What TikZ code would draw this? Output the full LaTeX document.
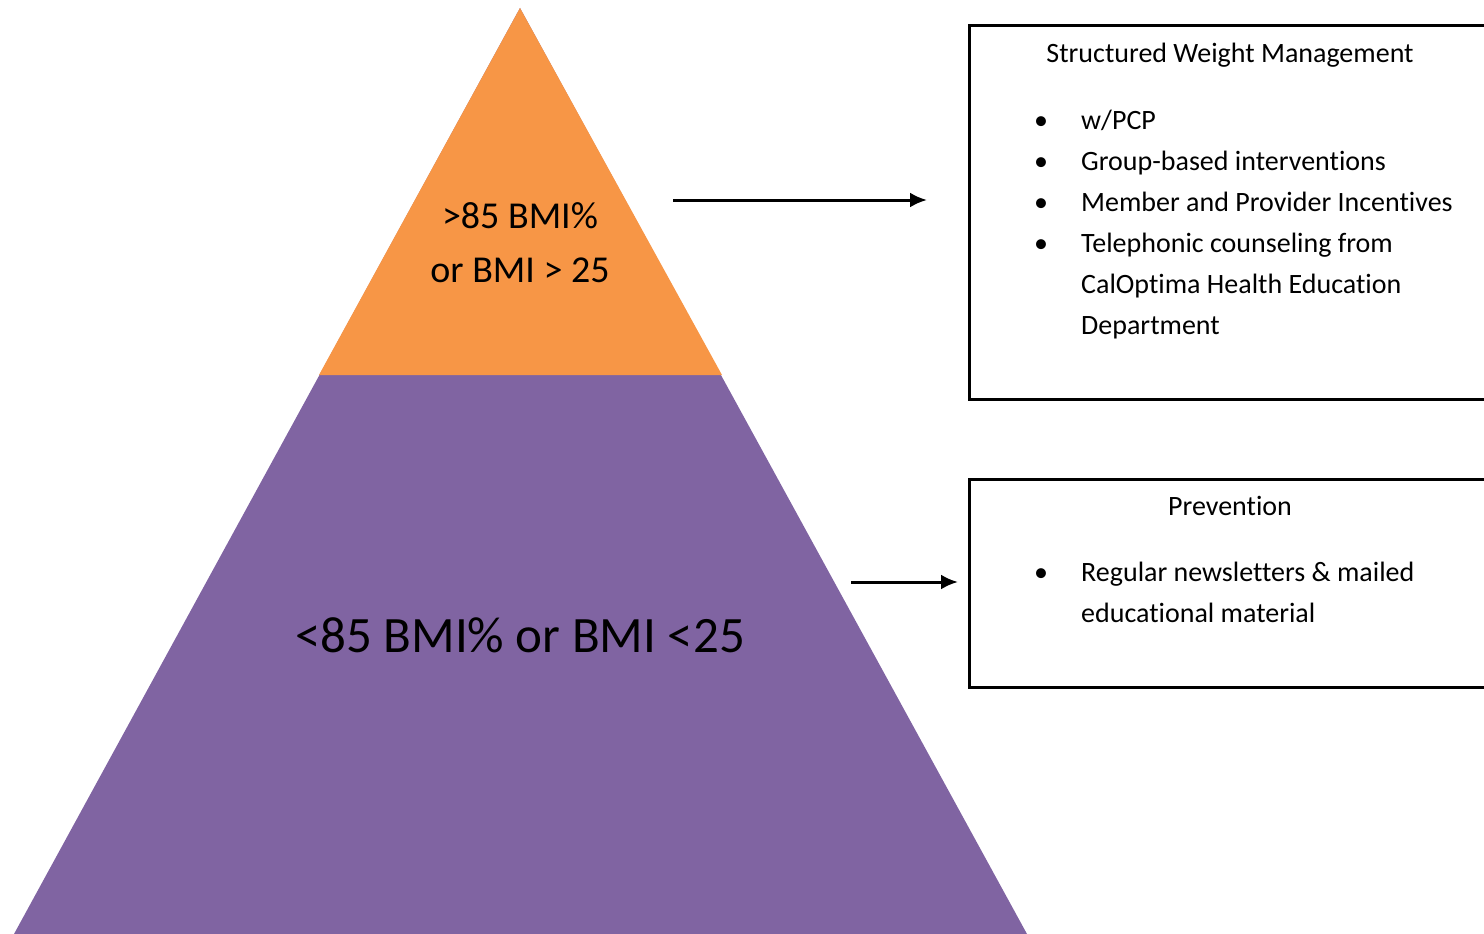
\documentclass[tikz,border=0pt]{standalone}
\usepackage{fontspec}
\setmainfont[Ligatures=NoCommon]{Carlito}
\usetikzlibrary{positioning, arrows, arrows.meta}

\definecolor{bmiorange}{HTML}{F79646}
\definecolor{bmipurple}{HTML}{8064A2}

\begin{document}
\begin{tikzpicture}[x=1pt, y=-1pt,
    infobox/.style={draw, line width=2.6pt, anchor=north west, inner sep=0pt},
    pointer/.style={-{Latex[length=17pt, width=15pt]}, line width=3pt},
    boxtext/.style={anchor=base west, inner sep=0pt, font=\fontsize{28}{41}\selectfont},
    dot/.style={anchor=base, inner sep=0pt, font=\fontsize{28}{41}\selectfont}]
  \useasboundingbox (0,0) rectangle (1484,934);
  \clip (0,0) rectangle (1484,934);

  % pyramid
  \fill[bmipurple] (520,8) -- (14,934) -- (1027,934) -- cycle;
  \fill[bmiorange] (520,8) -- (319,375) -- (722,375) -- cycle;
  \node[anchor=base, font=\fontsize{38}{54}\selectfont] (top1) at (520,228) {>85 BMI\%};
  \node[anchor=base, font=\fontsize{38}{54}\selectfont] (top2) at (520,282) {or BMI > 25};
  \node[anchor=base, font=\fontsize{51}{60}\selectfont] (base) at (520,652) {<85 BMI\% or BMI <25};

  % boxes
  \node[infobox, minimum width=540pt, minimum height=374pt] (weight) at (968,24) {};
  \node[infobox, minimum width=540pt, minimum height=208pt] (prevent) at (968,478) {};

  \node[anchor=base, inner sep=0pt, font=\fontsize{28}{41}\selectfont] (wtitle) at (1230,63) {Structured Weight Management};
  \node[dot] (b1) at (1041,129) {\textbullet};
  \node[dot] (b2) at (1041,170) {\textbullet};
  \node[dot] (b3) at (1041,211) {\textbullet};
  \node[dot] (b4) at (1041,252) {\textbullet};
  \node[boxtext] (w1) at (1081,129) {w/PCP};
  \node[boxtext] (w2) at (1081,170) {Group-based interventions};
  \node[boxtext] (w3) at (1081,211) {Member and Provider Incentives};
  \node[boxtext] (w4) at (1081,252) {Telephonic counseling from};
  \node[boxtext] (w5) at (1081,293) {CalOptima Health Education};
  \node[boxtext] (w6) at (1081,334) {Department};

  \node[anchor=base, inner sep=0pt, font=\fontsize{28}{41}\selectfont] (ptitle) at (1230,515) {Prevention};
  \node[dot] (b5) at (1041,581) {\textbullet};
  \node[boxtext] (p1) at (1081,581) {Regular newsletters \& mailed};
  \node[boxtext] (p2) at (1081,622) {educational material};

  % arrows
  \coordinate (a1) at (673,200);
  \coordinate (a2) at (927,200);
  \coordinate (a3) at (851,582);
  \coordinate (a4) at (958,582);
  \draw[pointer] (a1) -- (a2);
  \draw[pointer] (a3) -- (a4);
\end{tikzpicture}
\end{document}
